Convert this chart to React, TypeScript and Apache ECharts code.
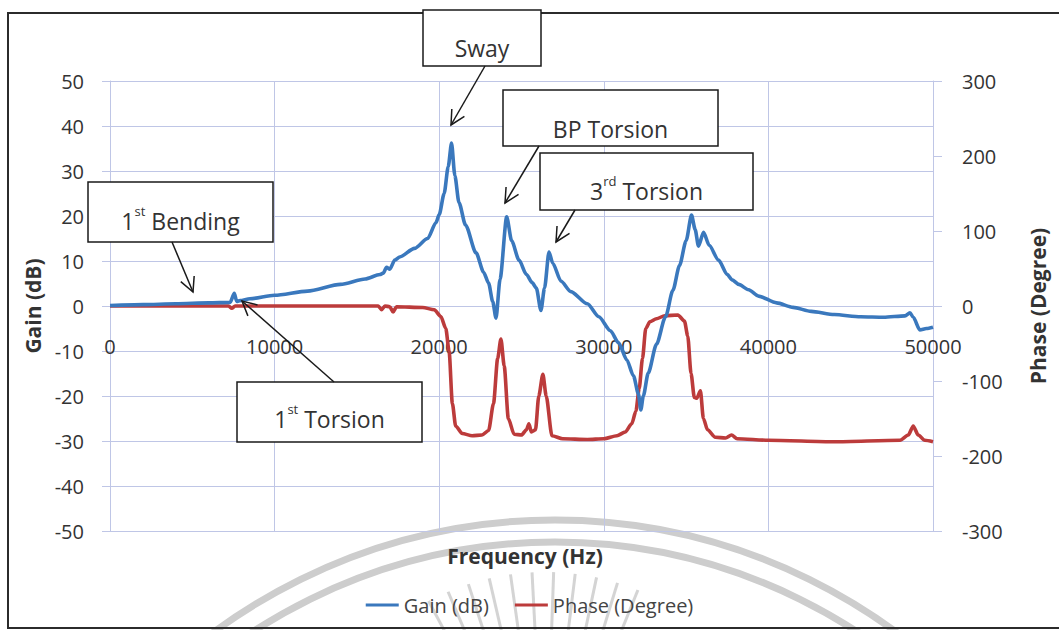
import React, { useEffect, useRef } from "react";
import * as echarts from "echarts";

// ---- data ----
const gainFreq = [
  0, 2000, 4000, 6000, 7300, 7550, 7700, 7900, 8500, 10000, 12000, 14000, 15500,
  16400, 16600, 16800, 17000, 17300, 17600, 18500, 19300, 19800, 20000, 20300,
  20550, 20750, 20950, 21200, 21600, 22240, 22700, 23000, 23250, 23450, 23700,
  24100, 24400, 24850, 25300, 25650, 25900, 26180, 26400, 26670, 26900, 27400,
  28000, 29000, 29700, 30400, 30900, 31400, 31800, 32100, 32250, 32400, 32700,
  33200, 33750, 34200, 34600, 35000, 35330, 35550, 35750, 36060, 36400, 36970,
  37500, 37800, 38200, 38800, 39400, 40500, 41500, 42600, 44000, 45600, 47000,
  48300, 48600, 48800, 49200, 49600, 50000,
];
const gainDb = [
  0.1, 0.3, 0.5, 0.7, 0.8, 2.8, 1.0, 1.2, 1.6, 2.4, 3.3, 4.8, 6.0,
  7.0, 7.3, 8.6, 8.2, 10.2, 10.9, 12.8, 15.0, 18.5, 20.3, 25.0,
  31.0, 36.2, 29.0, 23.0, 18.0, 11.8, 7.5, 5.1, 1.0, -2.7, 6.0,
  19.8, 14.5, 10.2, 7.0, 5.2, 4.0, -1.0, 4.0, 12.0, 9.5, 5.5,
  3.2, 0.5, -2.4, -5.5, -8.2, -12.0, -15.5, -19.5, -23.1, -20.0, -14.9,
  -8.5, -2.4, 3.5, 9.0, 14.5, 20.2, 17.0, 13.3, 16.4, 13.5, 10.2,
  7.0, 5.8, 4.8, 3.6, 2.2, 0.7, -0.3, -1.2, -1.9, -2.4, -2.5,
  -2.2, -1.5, -2.5, -5.3, -5.0, -4.7,
];

const phaseFreq = [
  0, 7200, 7400, 7600, 16300, 16500, 16700, 17000, 17200, 17400, 19000, 19700,
  20100, 20400, 20600, 20800, 21000, 21400, 22000, 22600, 23000, 23300, 23550,
  23750, 23950, 24200, 24550, 25000, 25300, 25450, 25600, 25850, 26050, 26300,
  26500, 26850, 27500, 29000, 30000, 30800, 31300, 31700, 31950, 32150, 32350,
  32550, 32800, 33200, 33700, 34500, 34900, 35100, 35300, 35500, 35650, 35870,
  36050, 36300, 36770, 37400, 37760, 38100, 40000, 44000, 48000, 48500, 48800,
  49100, 49500, 50000,
];
const phaseDeg = [
  0, 0, -3, 0, 0, -5, 0, -1, -8, -1, -2, -5,
  -14, -30, -60, -130, -160, -170, -173, -172, -166, -130, -70,
  -44, -80, -150, -171, -172, -165, -157, -168, -165, -120, -91,
  -120, -173, -177, -178, -177, -173, -168, -157, -140, -110, -70,
  -30, -21, -17, -13, -12, -20, -40, -90, -122, -123, -113,
  -150, -165, -175, -176, -172, -177, -179, -181, -179, -172, -160,
  -172, -179, -181,
];

const gainTicks = { min: -50, max: 50, interval: 10 };
const phaseTicks = { min: -300, max: 300, interval: 100 };
const freqTicks = { min: 0, max: 50000, interval: 10000 };

const BLUE = "#3a78bd";
const RED = "#bc3b3b";
const GRID = "#bfc6e6";
const TXT = "#333333";
const FONT = "'Open Sans', 'Noto Sans', sans-serif";

const GRID_TOP = 81;
const GRID_H = 450;

type Note = {
  pre: string;
  sup: string;
  post: string;
  box: [number, number, number, number];
  from: [number, number];
  tip: [number, number];
  textY: number;
};

const notes: Note[] = [
  { pre: "Sway", sup: "", post: "", box: [423, 10, 118, 56], from: [485, 66], tip: [451, 125], textY: 45 },
  { pre: "BP Torsion", sup: "", post: "", box: [503, 90, 215, 56], from: [539, 146], tip: [505, 203], textY: 126 },
  { pre: "3", sup: "rd", post: " Torsion", box: [540, 153, 213, 57], from: [575, 210], tip: [556, 242], textY: 188 },
  { pre: "1", sup: "st", post: " Bending", box: [88, 182, 185, 60], from: [172, 242], tip: [193, 292], textY: 218 },
  { pre: "1", sup: "st", post: " Torsion", box: [237, 382, 185, 60], from: [334, 382], tip: [242, 301], textY: 416 },
];

function arrowGraphics(from: [number, number], tip: [number, number]) {
  const dx = tip[0] - from[0];
  const dy = tip[1] - from[1];
  const ang = Math.atan2(dy, dx);
  const L = 16;
  const half = (27 * Math.PI) / 180;
  const w1 = [tip[0] - L * Math.cos(ang - half), tip[1] - L * Math.sin(ang - half)];
  const w2 = [tip[0] - L * Math.cos(ang + half), tip[1] - L * Math.sin(ang + half)];
  const style = { stroke: "#1a1a1a", lineWidth: 1.5, fill: "none" };
  return [
    { type: "line", shape: { x1: from[0], y1: from[1], x2: tip[0], y2: tip[1] }, style, z: 100 },
    { type: "polyline", shape: { points: [w1, tip, w2] }, style, z: 100 },
  ];
}

function noteGraphics(n: Note) {
  const [x, y, w, h] = n.box;
  const els: any[] = [
    {
      type: "rect",
      shape: { x, y, width: w, height: h },
      style: { fill: "#ffffff", stroke: "#1a1a1a", lineWidth: 1.5 },
      z: 100,
    },
  ];
  let text = `{m|${n.pre}}`;
  if (n.sup) text += `{s|${n.sup}}{m|${n.post}}`;
  els.push({
    type: "text",
    x: x + w / 2,
    y: n.textY,
    z: 101,
    style: {
      text,
      align: "center",
      verticalAlign: "middle",
      fill: TXT,
      rich: {
        m: { fontSize: 23, fontFamily: FONT, fill: TXT, lineHeight: 28, verticalAlign: "bottom" },
        s: { fontSize: 13, fontFamily: FONT, fill: TXT, lineHeight: 16, verticalAlign: "top" },
      },
    },
  });
  return [...els, ...arrowGraphics(n.from, n.tip)];
}

function watermark() {
  const els: any[] = [];
  const cx = 555;
  const cy = 1095;
  const st = { stroke: "#cdcdcd", lineWidth: 7, fill: "none" };
  [575, 553].forEach((r) => {
    els.push({
      type: "arc",
      shape: { cx, cy, r, startAngle: (-140 * Math.PI) / 180, endAngle: (-40 * Math.PI) / 180, clockwise: true },
      style: st,
      z: -10,
      silent: true,
    });
  });
  // faint rays of the scanned emblem
  const rcx = 545;
  const rcy = 820;
  for (let a = -118; a <= -68; a += 5) {
    const t = (a * Math.PI) / 180;
    els.push({
      type: "line",
      shape: {
        x1: rcx + 190 * Math.cos(t),
        y1: rcy + 190 * Math.sin(t),
        x2: rcx + 248 * Math.cos(t),
        y2: rcy + 248 * Math.sin(t),
      },
      style: { stroke: "#d4d4d4", lineWidth: 3 },
      z: -10,
      silent: true,
    });
  }
  return els;
}

export default function App() {
  const ref = useRef<HTMLDivElement>(null);
  useEffect(() => {
    document.body.style.margin = "0";
    if (!ref.current) return;
    const chart = echarts.init(ref.current, undefined, { renderer: "svg" });
    const gainData = gainFreq.map((f, i) => [f, gainDb[i]]);
    const phaseData = phaseFreq.map((f, i) => [f, phaseDeg[i]]);
    const axisLabelStyle = { fontSize: 20, color: TXT, fontFamily: FONT };
    // x axis sits on the gain axis' zero line
    const zeroOffset = -(GRID_H * gainTicks.max) / (gainTicks.max - gainTicks.min);
    const graphics: any[] = [
      {
        type: "rect",
        shape: { x: 8, y: 13, width: 1070, height: 615 },
        style: { fill: "none", stroke: "#2b2b2b", lineWidth: 2 },
        z: 50,
        silent: true,
      },
      ...watermark(),
      {
        type: "text",
        x: 525,
        y: 556,
        style: {
          text: "Frequency (Hz)",
          align: "center",
          verticalAlign: "middle",
          fontSize: 21,
          fontWeight: "bold",
          fontFamily: FONT,
          fill: TXT,
        },
        z: 60,
      },
    ];
    notes.forEach((n) => graphics.push(...noteGraphics(n)));
    chart.setOption({
      animation: false,
      backgroundColor: "#ffffff",
      textStyle: { fontFamily: FONT },
      grid: { left: 110, right: 126, top: GRID_TOP, height: GRID_H, containLabel: false },
      legend: {
        top: 590,
        left: "center",
        icon: "rect",
        itemWidth: 33,
        itemHeight: 3,
        itemGap: 26,
        textStyle: { fontSize: 20, color: "#444", fontFamily: FONT },
        data: ["Gain (dB)", "Phase (Degree)"],
      },
      xAxis: {
        type: "value",
        position: "bottom",
        offset: zeroOffset,
        min: freqTicks.min,
        max: freqTicks.max,
        interval: freqTicks.interval,
        axisLine: { show: true, onZero: false, lineStyle: { color: GRID, width: 1 } },
        axisTick: { show: false },
        axisLabel: {
          ...axisLabelStyle,
          margin: 30,
          showMinLabel: true,
          showMaxLabel: true,
          formatter: (v: number) => String(v),
        },
        splitLine: { show: true, lineStyle: { color: GRID, width: 1 } },
      },
      yAxis: [
        {
          type: "value",
          min: gainTicks.min,
          max: gainTicks.max,
          interval: gainTicks.interval,
          name: "Gain (dB)",
          nameLocation: "middle",
          nameRotate: 90,
          nameGap: 52,
          nameTextStyle: { fontSize: 21, fontWeight: "bold", color: TXT, fontFamily: FONT },
          axisLine: { show: true, onZero: false, lineStyle: { color: GRID } },
          axisTick: { show: true, inside: false, length: 8, lineStyle: { color: GRID } },
          axisLabel: { ...axisLabelStyle, margin: 26 },
          splitLine: { show: true, lineStyle: { color: GRID, width: 1 } },
        },
        {
          type: "value",
          position: "right",
          min: phaseTicks.min,
          max: phaseTicks.max,
          interval: phaseTicks.interval,
          name: "Phase (Degree)",
          nameLocation: "middle",
          nameRotate: 90,
          nameGap: 94,
          nameTextStyle: { fontSize: 21, fontWeight: "bold", color: TXT, fontFamily: FONT },
          axisLine: { show: true, onZero: false, lineStyle: { color: GRID } },
          axisTick: { show: true, inside: false, length: 9, lineStyle: { color: GRID } },
          axisLabel: { ...axisLabelStyle, margin: 29 },
          splitLine: { show: false },
        },
      ],
      series: [
        {
          name: "Gain (dB)",
          type: "line",
          yAxisIndex: 0,
          data: gainData,
          showSymbol: false,
          symbol: "none",
          smooth: 0.25,
          smoothMonotone: "x",
          lineStyle: { color: BLUE, width: 3.6 },
          itemStyle: { color: BLUE },
          z: 3,
        },
        {
          name: "Phase (Degree)",
          type: "line",
          yAxisIndex: 1,
          data: phaseData,
          showSymbol: false,
          symbol: "none",
          smooth: 0.25,
          smoothMonotone: "x",
          lineStyle: { color: RED, width: 3.6 },
          itemStyle: { color: RED },
          z: 2,
        },
      ],
      graphic: graphics,
    });
    return () => chart.dispose();
  }, []);
  return <div ref={ref} style={{ width: 1059, height: 630, position: "fixed", left: 0, top: 0 }} />;
}
